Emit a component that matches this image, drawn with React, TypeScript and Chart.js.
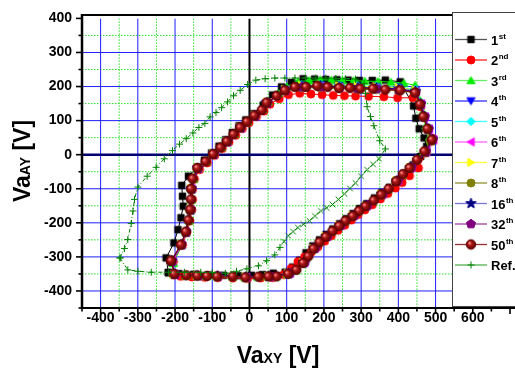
import React, { useEffect, useRef } from 'react';
import { Chart, registerables } from 'chart.js';

Chart.register(...registerables);

type P = [number, number];

// ---- axes / labels ----
const xMin = -450, xMax = 700, yMin = -450, yMax = 400;
const xTickLabels = [-400, -300, -200, -100, 0, 100, 200, 300, 400, 500, 600];
const yTickLabels = [-400, -300, -200, -100, 0, 100, 200, 300, 400];
const legendMain = ['1', '2', '3', '4', '5', '6', '7', '8', '16', '32', '50', 'Ref.'];
const legendSup = ['st', 'nd', 'rd', 'th', 'th', 'th', 'th', 'th', 'th', 'th', 'th', ''];

// ---- series data (VaXY, VaAY) ----
const s1: P[] = [[-218,-346],[-224,-303],[-203,-259],[-192,-220],[-184,-185],[-178,-151],[-180,-122],[-182,-90],[-164,-63],[-140,-37],[-121,-16],[-102,5],[-82,25],[-64,44],[-46,65],[-28,85],[-10,102],[10,120],[37,146],[62,175],[86,199],[112,212],[144,223],[175,222],[205,221],[235,220],[265,219],[295,218],[330,218],[365,219],[405,214],[441,143],[447,107],[456,76],[469,49],[476,24],[460,-5],[440,-30],[418,-55],[396,-78],[376,-96],[356,-111],[336,-127],[315,-144],[296,-158],[278,-173],[260,-188],[242,-203],[224,-218],[206,-234],[188,-250],[170,-268],[152,-288],[135,-310],[116,-330],[96,-345],[64,-348],[35,-352],[5,-354],[-30,-355],[-70,-354],[-110,-353],[-150,-351],[-190,-349],[-218,-346]];
const s2: P[] = [[-205,-315],[-180,-265],[-168,-228],[-160,-195],[-155,-162],[-153,-132],[-153,-102],[-148,-72],[-134,-44],[-113,-24],[-93,-2],[-73,18],[-55,37],[-37,57],[-19,77],[-1,94],[19,112],[39,128],[55,148],[80,164],[105,176],[135,180],[165,178],[195,176],[225,174],[255,173],[285,172],[320,171],[361,170],[398,167],[439,167],[460,140],[470,108],[482,76],[493,48],[489,39],[474,5],[454,-39],[430,-62],[410,-82],[392,-98],[372,-114],[352,-130],[330,-147],[310,-162],[292,-176],[274,-192],[256,-207],[238,-222],[220,-238],[202,-254],[184,-270],[166,-286],[148,-300],[130,-314],[112,-334],[92,-352],[62,-361],[30,-362],[-5,-363],[-45,-362],[-85,-361],[-120,-360],[-155,-359],[-185,-357],[-205,-352],[-205,-315]];
const s3: P[] = [[-205,-318],[-182,-266],[-170,-228],[-162,-194],[-158,-162],[-156,-132],[-155,-101],[-150,-71],[-138,-40],[-116,-19],[-96,3],[-76,22],[-59,40],[-41,61],[-23,81],[-5,98],[15,116],[35,133],[50,155],[77,180],[100,200],[130,214],[160,218],[190,220],[220,219],[250,218],[280,217],[310,216],[345,215],[380,213],[415,210],[445,204],[458,160],[466,125],[474,85],[484,52],[488,40],[468,8],[448,-16],[428,-40],[410,-59],[392,-79],[372,-101],[352,-118],[332,-135],[310,-152],[292,-166],[275,-181],[256,-195],[239,-210],[221,-225],[203,-242],[186,-258],[170,-277],[156,-299],[142,-319],[124,-339],[102,-351],[71,-358],[49,-358],[22,-359],[-12,-361],[-46,-358],[-88,-358],[-115,-357],[-141,-356],[-171,-355],[-203,-351],[-205,-318]];
const s4: P[] = [[-208,-313],[-183,-265],[-171,-227],[-161,-162],[-157,-101],[-141,-41],[-99,0],[-62,37],[-26,78],[12,113],[45,151],[94,190],[140,203],[190,205],[240,202],[290,200],[340,199],[400,196],[446,190],[460,150],[470,112],[481,76],[493,45],[473,8],[433,-38],[397,-76],[356,-115],[314,-149],[279,-178],[243,-207],[207,-239],[174,-274],[146,-316],[106,-348],[52,-357],[-10,-359],[-86,-356],[-140,-355],[-201,-351],[-208,-313]];
const s5: P[] = [[-209,-312],[-184,-264],[-172,-228],[-160,-162],[-157,-100],[-140,-40],[-98,1],[-61,38],[-25,79],[13,114],[46,152],[95,191],[140,205],[190,206],[240,204],[290,202],[340,201],[400,198],[446,192],[461,152],[471,114],[482,78],[489,46],[471,8],[431,-38],[395,-76],[354,-116],[312,-150],[277,-179],[241,-208],[205,-240],[172,-275],[144,-317],[104,-349],[51,-357],[-11,-359],[-87,-356],[-140,-355],[-202,-351],[-209,-312]];
const s6: P[] = [[-207,-312],[-182,-265],[-170,-227],[-158,-162],[-155,-100],[-138,-40],[-96,1],[-59,38],[-23,79],[15,114],[48,152],[97,189],[142,199],[192,200],[242,197],[292,195],[342,194],[402,191],[447,185],[462,149],[472,111],[483,75],[495,43],[476,8],[436,-38],[400,-76],[358,-116],[316,-150],[281,-179],[245,-208],[209,-240],[176,-275],[148,-317],[108,-349],[55,-358],[-8,-360],[-85,-357],[-138,-356],[-200,-352],[-207,-312]];
const s7: P[] = [[-209,-311],[-184,-263],[-172,-227],[-160,-161],[-157,-99],[-140,-39],[-98,2],[-61,39],[-25,80],[13,115],[46,153],[95,192],[140,204],[190,205],[240,203],[290,201],[340,200],[400,197],[445,190],[459,150],[469,112],[479,76],[490,45],[470,8],[430,-38],[394,-76],[353,-116],[311,-150],[276,-179],[240,-208],[204,-240],[171,-275],[143,-317],[103,-349],[50,-357],[-12,-359],[-88,-356],[-141,-355],[-203,-351],[-209,-311]];
const s8: P[] = [[-210,-312],[-185,-265],[-172,-228],[-161,-162],[-158,-101],[-141,-40],[-99,1],[-62,38],[-26,79],[12,114],[45,152],[94,187],[140,196],[190,197],[240,194],[290,192],[340,191],[400,188],[444,182],[458,147],[468,110],[478,74],[486,40],[475,7],[432,-39],[396,-77],[355,-117],[313,-151],[278,-180],[242,-209],[206,-241],[173,-276],[145,-318],[105,-350],[52,-358],[-10,-360],[-86,-357],[-139,-356],[-201,-352],[-210,-312]];
const s16: P[] = [[-209,-312],[-184,-264],[-171,-227],[-159,-162],[-156,-100],[-139,-40],[-97,1],[-60,38],[-24,79],[14,114],[47,152],[96,190],[141,201],[191,202],[241,199],[291,197],[341,196],[401,193],[446,186],[460,149],[469,111],[480,75],[491,44],[472,8],[432,-38],[396,-77],[355,-116],[313,-150],[278,-179],[242,-208],[206,-240],[173,-275],[145,-317],[105,-349],[52,-357],[-10,-359],[-86,-356],[-139,-355],[-201,-351],[-209,-312]];
const s32: P[] = [[-208,-312],[-183,-264],[-171,-227],[-159,-161],[-156,-100],[-139,-39],[-97,2],[-60,39],[-24,80],[14,115],[47,153],[96,189],[141,198],[191,199],[241,196],[291,194],[341,193],[401,190],[446,184],[461,149],[471,112],[481,76],[493,45],[474,9],[436,-37],[400,-75],[360,-114],[318,-148],[283,-177],[247,-206],[211,-238],[178,-273],[150,-315],[110,-348],[55,-357],[-9,-359],[-85,-356],[-138,-355],[-200,-351],[-208,-312]];
const s50: P[] = [[-211,-311],[-184,-264],[-171,-226],[-164,-192],[-159,-161],[-157,-131],[-157,-100],[-153,-70],[-140,-39],[-118,-20],[-98,2],[-78,21],[-61,39],[-43,60],[-25,80],[-7,97],[13,115],[33,131],[46,153],[73,173],[95,189],[122,199],[152,199],[182,202],[210,199],[241,196],[270,196],[298,194],[332,194],[365,191],[405,189],[445,182],[458,148],[467,112],[478,76],[490,44],[470,10],[450,-15],[430,-39],[412,-57],[394,-78],[374,-100],[354,-117],[334,-134],[312,-151],[294,-165],[277,-180],[258,-194],[241,-209],[223,-224],[205,-241],[188,-257],[172,-276],[158,-298],[144,-318],[126,-338],[104,-350],[73,-357],[51,-357],[24,-358],[-11,-360],[-45,-357],[-87,-357],[-114,-356],[-140,-355],[-170,-354],[-202,-350],[-211,-311]];
const sRef: P[] = [[-348,-303],[-336,-275],[-327,-249],[-318,-202],[-313,-165],[-309,-131],[-300,-95],[-275,-63],[-251,-37],[-229,-12],[-207,12],[-188,31],[-170,47],[-152,64],[-136,80],[-120,92],[-106,111],[-90,124],[-75,138],[-59,155],[-43,173],[-25,189],[-5,206],[17,219],[42,223],[68,225],[95,225],[122,225],[150,225],[178,225],[205,225],[232,224],[258,223],[285,222],[308,209],[312,180],[316,141],[325,112],[334,85],[350,41],[365,17],[348,-12],[332,-28],[316,-44],[300,-63],[285,-83],[270,-99],[255,-115],[239,-131],[223,-146],[207,-156],[192,-165],[176,-180],[161,-194],[145,-204],[130,-214],[117,-226],[104,-238],[93,-255],[82,-272],[68,-294],[46,-311],[24,-326],[-7,-335],[-35,-342],[-65,-348],[-100,-346],[-131,-345],[-175,-345],[-218,-345],[-264,-345],[-300,-342],[-327,-338],[-348,-303]];
const refDiagFrom = 41, refDiagTo = 58;

const seriesData: P[][] = [s1, s2, s3, s4, s5, s6, s7, s8, s16, s32, s50, sRef];

// ---- styles ----
const seriesColors = ['#000000', '#ff0000', '#00ee00', '#0000ff', '#00ffff', '#ff00ff', '#ffff00', '#808000', '#000080', '#800080', '#800000', '#008000'];
const legendLineColors = ['#555555', '#ff2020', '#66ee66', '#3030ff', '#40ffff', '#ff60ff', '#ffff40', '#909030', '#7878d8', '#a040a0', '#903030', '#50b050'];
const markerKinds = ['square', 'circle', 'triUp', 'triDown', 'diamond', 'triLeft', 'triRight', 'circle', 'star', 'pentagon', 'sphere', 'plus'];
const markerSizes = [6.5, 8, 9, 9, 8.5, 9, 9, 8, 11, 9.5, 9.5, 7];
const FONT = '"Liberation Sans", Arial, sans-serif';

function polygon(ctx: CanvasRenderingContext2D, cx: number, cy: number, r: number, n: number, a0: number) {
  for (let i = 0; i < n; i++) {
    const a = (a0 + (i * 360) / n) * Math.PI / 180;
    const x = cx + r * Math.cos(a), y = cy + r * Math.sin(a);
    if (i === 0) ctx.moveTo(x, y); else ctx.lineTo(x, y);
  }
  ctx.closePath();
}

function makeMarker(kind: string, color: string, size: number): HTMLCanvasElement {
  const s = Math.ceil(size + 4);
  const c = document.createElement('canvas');
  c.width = s; c.height = s;
  const ctx = c.getContext('2d')!;
  const cx = s / 2, cy = s / 2, r = size / 2;
  ctx.fillStyle = color; ctx.strokeStyle = color; ctx.lineWidth = 1;
  ctx.beginPath();
  switch (kind) {
    case 'square': ctx.rect(cx - r, cy - r, size, size); break;
    case 'circle': ctx.arc(cx, cy, r, 0, Math.PI * 2); break;
    case 'triUp': polygon(ctx, cx, cy + r * 0.2, r * 1.05, 3, -90); break;
    case 'triDown': polygon(ctx, cx, cy - r * 0.2, r * 1.05, 3, 90); break;
    case 'triLeft': polygon(ctx, cx + r * 0.2, cy, r * 1.05, 3, 180); break;
    case 'triRight': polygon(ctx, cx - r * 0.2, cy, r * 1.05, 3, 0); break;
    case 'diamond': polygon(ctx, cx, cy, r, 4, -90); break;
    case 'pentagon': polygon(ctx, cx, cy, r, 5, -90); break;
    case 'star': {
      for (let i = 0; i < 10; i++) {
        const a = (-90 + i * 36) * Math.PI / 180;
        const rr = i % 2 === 0 ? r : r * 0.42;
        const x = cx + rr * Math.cos(a), y = cy + rr * Math.sin(a);
        if (i === 0) ctx.moveTo(x, y); else ctx.lineTo(x, y);
      }
      ctx.closePath();
      break;
    }
    case 'sphere': {
      const g = ctx.createRadialGradient(cx - r * 0.35, cy - r * 0.35, 0.5, cx, cy, r);
      g.addColorStop(0, '#ff9090');
      g.addColorStop(0.35, '#b01818');
      g.addColorStop(1, '#5a0000');
      ctx.fillStyle = g;
      ctx.arc(cx, cy, r, 0, Math.PI * 2);
      ctx.fill();
      ctx.strokeStyle = '#600000';
      ctx.stroke();
      return c;
    }
    case 'plus':
      ctx.moveTo(cx - r, cy); ctx.lineTo(cx + r, cy);
      ctx.moveTo(cx, cy - r); ctx.lineTo(cx, cy + r);
      ctx.stroke();
      return c;
    case 'cross': {
      const d = r * 0.8;
      ctx.moveTo(cx - d, cy - d); ctx.lineTo(cx + d, cy + d);
      ctx.moveTo(cx + d, cy - d); ctx.lineTo(cx - d, cy + d);
      ctx.stroke();
      return c;
    }
  }
  ctx.fill();
  ctx.stroke();
  return c;
}

function drawRich(ctx: CanvasRenderingContext2D, parts: [string, number][], x: number, y: number) {
  let cx = x;
  for (const [t, sz] of parts) {
    ctx.font = `bold ${sz}px ${FONT}`;
    ctx.fillText(t, cx, y);
    cx += ctx.measureText(t).width;
  }
}
function richWidth(ctx: CanvasRenderingContext2D, parts: [string, number][]) {
  let w = 0;
  for (const [t, sz] of parts) { ctx.font = `bold ${sz}px ${FONT}`; w += ctx.measureText(t).width; }
  return w;
}

export default function App() {
  const ref = useRef<HTMLCanvasElement>(null);
  useEffect(() => {
    const canvas = ref.current!;
    const markers = markerKinds.map((k, i) => makeMarker(k, seriesColors[i], markerSizes[i]));
    const crossImg = makeMarker('cross', seriesColors[11], 7);

    const decor = {
      id: 'decor',
      beforeDatasetsDraw(chart: any) {
        const { ctx, chartArea: a, scales } = chart;
        const xs = scales.x, ys = scales.y;
        const L = (x1: number, y1: number, x2: number, y2: number) => { ctx.beginPath(); ctx.moveTo(x1, y1); ctx.lineTo(x2, y2); ctx.stroke(); };
        ctx.save();
        ctx.beginPath(); ctx.rect(a.left, a.top, a.right - a.left, a.bottom - a.top); ctx.clip();
        ctx.lineWidth = 1; ctx.strokeStyle = 'rgb(40,225,40)'; ctx.setLineDash([1.5, 1.5]);
        for (let v = -350; v <= 550; v += 100) { const p = xs.getPixelForValue(v); L(p, a.top, p, a.bottom); }
        for (let v = -350; v <= 350; v += 100) { const p = ys.getPixelForValue(v); L(a.left, p, a.right, p); }
        ctx.setLineDash([]); ctx.strokeStyle = 'rgb(30,30,255)';
        for (let v = -400; v <= 500; v += 100) { if (v === 0) continue; const p = xs.getPixelForValue(v); L(p, a.top, p, a.bottom); }
        for (let v = -400; v <= 300; v += 100) { if (v === 0) continue; const p = ys.getPixelForValue(v); L(a.left, p, a.right, p); }
        ctx.strokeStyle = '#000'; ctx.lineWidth = 2;
        const x0 = xs.getPixelForValue(0); L(x0, a.top, x0, a.bottom);
        ctx.strokeStyle = '#000070'; ctx.lineWidth = 2.5;
        const y0 = ys.getPixelForValue(0); L(a.left, y0, a.right, y0);
        ctx.restore();
      },
      afterDraw(chart: any) {
        const { ctx, chartArea: a, scales } = chart;
        const xs = scales.x, ys = scales.y;
        const L = (x1: number, y1: number, x2: number, y2: number) => { ctx.beginPath(); ctx.moveTo(x1, y1); ctx.lineTo(x2, y2); ctx.stroke(); };
        ctx.save();
        // legend box
        const lx = 452, ly = 12, lb = 307;
        ctx.fillStyle = '#fff'; ctx.fillRect(lx, ly, 80, lb - ly);
        // top frame
        ctx.strokeStyle = '#000'; ctx.lineWidth = 2; L(a.left, 15, lx, 15);
        ctx.lineWidth = 1; ctx.strokeStyle = '#444';
        L(lx + 0.5, ly, lx + 0.5, lb); L(lx, ly + 0.5, 515, ly + 0.5); L(lx, lb - 0.5, 515, lb - 0.5);
        // axes
        ctx.strokeStyle = '#000'; ctx.lineWidth = 2.5; L(a.left, 14, a.left, a.bottom + 1);
        ctx.lineWidth = 2; L(a.left - 1, a.bottom, 515, a.bottom);
        ctx.lineWidth = 1.6;
        for (let v = yMin; v <= yMax; v += 50) { const p = ys.getPixelForValue(v); const len = v % 100 === 0 ? 6 : 3.5; L(a.left - len, p, a.left, p); }
        for (let v = xMin; v <= xMax; v += 50) { const p = xs.getPixelForValue(v); const len = v % 100 === 0 ? 6 : 3.5; L(p, a.bottom, p, a.bottom + len); }
        // legend entries
        for (let i = 0; i < legendMain.length; i++) {
          const y = 39.5 + i * 20.5;
          ctx.strokeStyle = legendLineColors[i]; ctx.lineWidth = 1.3;
          L(455, y, 487, y);
          const m = markers[i];
          ctx.drawImage(m, 471 - m.width / 2, y - m.height / 2);
          ctx.fillStyle = '#000'; ctx.textBaseline = 'alphabetic'; ctx.textAlign = 'left';
          ctx.font = `bold 13px ${FONT}`;
          ctx.fillText(legendMain[i], 491, y + 5);
          const w = ctx.measureText(legendMain[i]).width;
          if (legendSup[i]) { ctx.font = `bold 8px ${FONT}`; ctx.fillText(legendSup[i], 491 + w + 0.5, y - 1); }
        }
        // axis titles
        ctx.fillStyle = '#000'; ctx.textAlign = 'left'; ctx.textBaseline = 'alphabetic';
        const xt: [string, number][] = [['Va', 23], ['XY', 14], [' [V]', 23]];
        const xw = richWidth(ctx, xt);
        drawRich(ctx, xt, 278 - xw / 2, 363);
        const yt: [string, number][] = [['Va', 23], ['AY', 14], [' [V]', 23]];
        const yw = richWidth(ctx, yt);
        ctx.translate(30, 161); ctx.rotate(-Math.PI / 2);
        drawRich(ctx, yt, -yw / 2, 0);
        ctx.restore();
      },
    };

    const datasets = seriesData.map((d, i) => ({
      label: legendMain[i] + legendSup[i],
      data: d.map(([x, y]) => ({ x, y })),
      showLine: true,
      borderColor: seriesColors[i],
      backgroundColor: seriesColors[i],
      borderWidth: 1,
      borderDash: i === 11 ? [4, 2, 1, 2] : [],
      tension: 0,
      pointStyle: i === 11
        ? (c: any) => (c.dataIndex >= refDiagFrom && c.dataIndex <= refDiagTo ? crossImg : markers[11])
        : markers[i],
      pointRadius: 4,
      order: i === 11 ? 0 : 20 - i,
    }));

    const chart = new Chart(canvas, {
      type: 'scatter',
      data: { datasets },
      options: {
        animation: false,
        responsive: false,
        layout: { padding: { top: 16, left: 0, right: 0, bottom: 0 } },
        plugins: { legend: { display: false }, tooltip: { enabled: false } },
        scales: {
          x: {
            type: 'linear', min: xMin, max: xMax,
            grid: { display: false, drawTicks: false },
            border: { display: false },
            ticks: {
              stepSize: 50, autoSkip: false, maxRotation: 0, padding: 2,
              color: '#000', font: { size: 14, weight: 'bold', family: FONT },
              callback: (v: any) => (xTickLabels.includes(Number(v)) ? String(v) : ''),
            },
            afterFit: (s: any) => { s.height = 64; },
          },
          y: {
            type: 'linear', min: yMin, max: yMax,
            grid: { display: false, drawTicks: false },
            border: { display: false },
            ticks: {
              stepSize: 50, autoSkip: false, padding: 10,
              color: '#000', font: { size: 14, weight: 'bold', family: FONT },
              callback: (v: any) => (yTickLabels.includes(Number(v)) ? String(v) : ''),
            },
            afterFit: (s: any) => { s.width = 82; },
          },
        },
      },
      plugins: [decor],
    } as any);
    return () => chart.destroy();
  }, []);
  return (
    <div style={{ position: 'fixed', left: 0, top: 0, width: 515, height: 372, background: '#fff' }}>
      <canvas ref={ref} width={515} height={372} style={{ display: 'block', width: 515, height: 372 }} />
    </div>
  );
}
